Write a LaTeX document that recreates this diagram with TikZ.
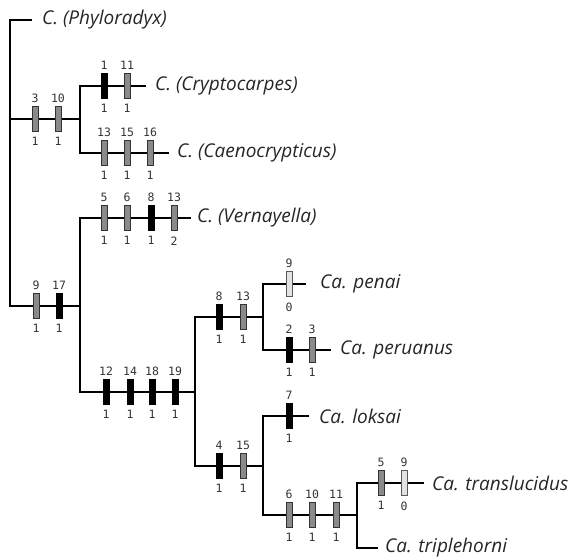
\documentclass[tikz,border=0pt]{standalone}
\usepackage{fontspec}
\setmainfont{Open Sans}
\newfontfamily\numfont{DejaVu Sans Mono}
\definecolor{midgray}{HTML}{8A8A8A}
\definecolor{lightgray}{HTML}{E2E2E2}
\begin{document}
\begin{tikzpicture}[x=1pt,y=-1pt,
  branch/.style={line width=2pt,line cap=rect},
  barbase/.style={rectangle,minimum width=6pt,minimum height=25pt,inner sep=0pt,line width=0.6pt},
  gbar/.style={barbase,fill=midgray,draw=black!80},
  bbar/.style={barbase,fill=black,draw=black},
  lbar/.style={barbase,fill=lightgray,draw=black!65},
  num/.style={font=\numfont\fontsize{11.5}{11.5}\selectfont,text=black!80,inner sep=0pt},
  taxon/.style={anchor=west,inner sep=0pt,font=\fontsize{19}{19}\selectfont\itshape,text=black!85}
]
\useasboundingbox (0,0) rectangle (573,558);
\newcommand{\cbar}[5]{% style, name, x, y, top number
  \node[#1] (#2) at (#3,#4) {};
  \node[num,above=3.5pt] at (#2.north) {#5};
}
\newcommand{\bnum}[2]{\node[num,below=5.5pt] at (#1.south) {#2};}
% coordinates
\coordinate (rtop) at (10,20);
\coordinate (rbot) at (10,306);
\coordinate (phytip) at (31,20);
\coordinate (a) at (80,119);
\coordinate (atop) at (80,86);
\coordinate (abot) at (80,153);
\coordinate (cryptip) at (145,86);
\coordinate (caentip) at (168,153);
\coordinate (b) at (80,306);
\coordinate (btop) at (80,218);
\coordinate (bbot) at (80,392);
\coordinate (verntip) at (190,218);
\coordinate (c) at (195,392);
\coordinate (ctop) at (195,317);
\coordinate (cbot) at (195,466);
\coordinate (d) at (263,317);
\coordinate (dtop) at (263,284);
\coordinate (dbot) at (263,350);
\coordinate (pentip) at (305,284);
\coordinate (pertip) at (330,350);
\coordinate (e) at (263,466);
\coordinate (etop) at (263,416);
\coordinate (ebot) at (263,515);
\coordinate (loktip) at (308,416);
\coordinate (f) at (357,515);
\coordinate (ftop) at (357,483);
\coordinate (fbot) at (357,548);
\coordinate (trantip) at (423,483);
\coordinate (triptip) at (377,548);
% branches
\draw[branch] (phytip) -- (rtop) -- (rbot);
\draw[branch] (a -| rtop) -- (a);
\draw[branch] (cryptip) -- (atop) -- (abot) -- (caentip);
\draw[branch] (b -| rtop) -- (b);
\draw[branch] (verntip) -- (btop) -- (bbot) -- (c);
\draw[branch] (d) -- (ctop) -- (cbot) -- (e);
\draw[branch] (pentip) -- (dtop) -- (dbot) -- (pertip);
\draw[branch] (loktip) -- (etop) -- (ebot) -- (f);
\draw[branch] (trantip) -- (ftop) -- (fbot) -- (triptip);
% taxa
\node[taxon] (phy) at (42,20) {C. (Phyloradyx)};
\node[taxon] (cry) at (155,86) {C. (Cryptocarpes)};
\node[taxon] (cae) at (177,153) {C. (Caenocrypticus)};
\node[taxon] (ver) at (197,218) {C. (Vernayella)};
\node[taxon] (pen) at (320,284) {Ca. penai};
\node[taxon] (per) at (340,350) {Ca. peruanus};
\node[taxon] (lok) at (319,416) {Ca. loksai};
\node[taxon] (tra) at (432,483) {Ca. translucidus};
\node[taxon] (tri) at (385,548) {Ca. triplehorni};
% bars
\cbar{gbar}{a1}{35}{119}{3}\bnum{a1}{1}
\cbar{gbar}{a2}{58}{119}{10}\bnum{a2}{1}
\cbar{bbar}{cr1}{104}{86}{1}\bnum{cr1}{1}
\cbar{gbar}{cr2}{127}{86}{11}\bnum{cr2}{1}
\cbar{gbar}{ca1}{104}{153}{13}\bnum{ca1}{1}
\cbar{gbar}{ca2}{127}{153}{15}\bnum{ca2}{1}
\cbar{gbar}{ca3}{150}{153}{16}\bnum{ca3}{1}
\cbar{gbar}{b1}{36}{306}{9}\bnum{b1}{1}
\cbar{bbar}{b2}{59}{306}{17}\bnum{b2}{1}
\cbar{gbar}{v1}{104}{218}{5}\bnum{v1}{1}
\cbar{gbar}{v2}{127}{218}{6}\bnum{v2}{1}
\cbar{bbar}{v3}{151}{218}{8}\bnum{v3}{1}
\cbar{gbar}{v4}{174}{218}{13}\bnum{v4}{2}
\cbar{bbar}{c1}{106}{392}{12}\bnum{c1}{1}
\cbar{bbar}{c2}{130}{392}{14}\bnum{c2}{1}
\cbar{bbar}{c3}{152}{392}{18}\bnum{c3}{1}
\cbar{bbar}{c4}{175}{392}{19}\bnum{c4}{1}
\cbar{bbar}{d1}{219}{317}{8}\bnum{d1}{1}
\cbar{gbar}{d2}{243}{317}{13}\bnum{d2}{1}
\cbar{lbar}{pe1}{289}{284}{9}\bnum{pe1}{0}
\cbar{bbar}{pr1}{289}{350}{2}\bnum{pr1}{1}
\cbar{gbar}{pr2}{312}{350}{3}\bnum{pr2}{1}
\cbar{bbar}{e1}{219}{466}{4}\bnum{e1}{1}
\cbar{gbar}{e2}{243}{466}{15}\bnum{e2}{1}
\cbar{bbar}{l1}{289}{416}{7}\bnum{l1}{1}
\cbar{gbar}{f1}{289}{515}{6}\bnum{f1}{1}
\cbar{gbar}{f2}{312}{515}{10}\bnum{f2}{1}
\cbar{gbar}{f3}{336}{515}{11}\bnum{f3}{1}
\cbar{gbar}{t1}{381}{483}{5}\bnum{t1}{1}
\cbar{lbar}{t2}{404}{483}{9}\bnum{t2}{0}
\end{tikzpicture}
\end{document}
